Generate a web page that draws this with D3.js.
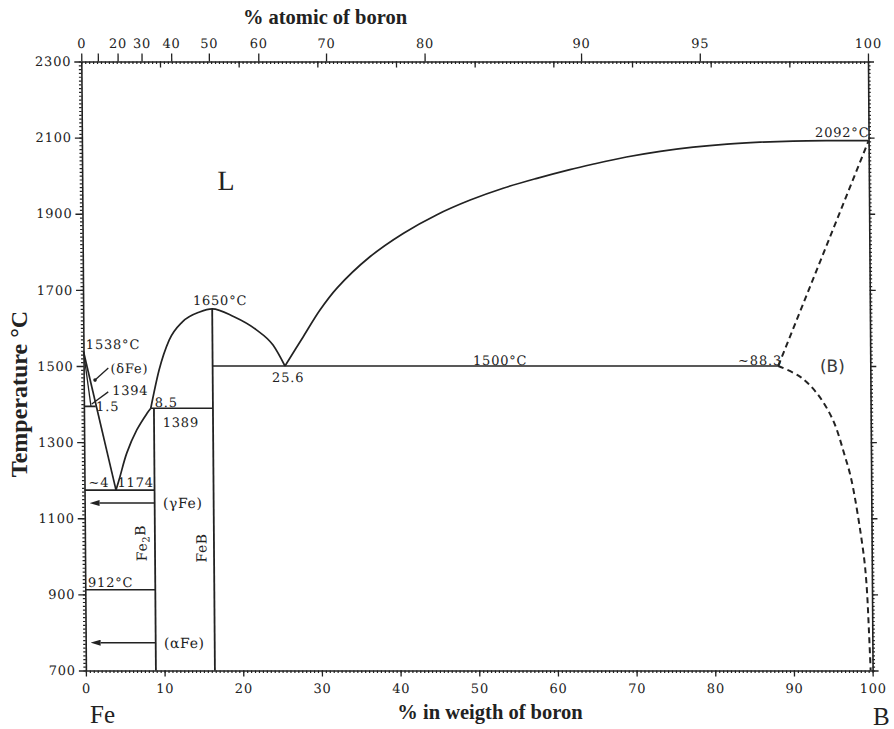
<!DOCTYPE html>
<html><head><meta charset="utf-8">
<script src="https://cdn.jsdelivr.net/npm/d3@7"></script>
<style>
body{margin:0;background:#fff;}
svg{display:block;}
</style></head><body>
<svg id="chart" width="894" height="729"></svg>
<script>
// Fe–B phase diagram: temperature (°C) against boron content (wt %)

// Liquidus branches (wt % B, °C)
const liquidusFeRich = [[0,1538],[4.0,1174]];
const liquidusFe2B = [[4.0,1174],[4.5,1208],[5.4,1271],[6.7,1332],[8.0,1375],[8.5,1389]];
const liquidusFeB = [[8.5,1389],[9.6,1490],[10.9,1568],[12.6,1616],[14.8,1642],[16.4,1650],[19.1,1630],[22.0,1595],[24.1,1555],[25.6,1500]];
const liquidusBoron = [[25.6,1500],[27.95,1577],[30.1,1647],[32.25,1704],[36.5,1787],[40.8,1849],[45.0,1897],[49.3,1936],[53.5,1967],[57.8,1993],[62.0,2016],[64.9,2030],[69.2,2049],[73.5,2064],[77.7,2075],[82.0,2083],[86.2,2088],[90.4,2091],[94.7,2092],[100,2092]];
const deltaSolidus = [[0,1538],[0.9,1394]];

// Dashed boundaries of the (B) field
const boronSolidus = [[88.3,1500],[100,2092]];
const boronSolvus = [[88.3,1500],[91.05,1472],[93.2,1428],[95.2,1358],[96.7,1262],[97.5,1200],[98.9,1017],[99.3,930],[99.58,800],[99.75,700]];

// Invariant horizontals: temperature, composition span
const isothermT    = [1394, 1389, 1174, 912, 1500];
const isothermFrom = [0,    8.5,  0,    0,   16.4];
const isothermTo   = [1.5,  16.4, 8.9,  8.9, 88.3];

// Line compounds
const compoundNames = ["Fe2B", "FeB"];
const compoundWt    = [8.9, 16.4];
const compoundTop   = [1389, 1650];

// Solid-solution arrows toward pure Fe
const arrowLabels = ["(γFe)", "(αFe)"];
const arrowT      = [1140, 773];

// Axis ticks
const tempTicks = [700, 900, 1100, 1300, 1500, 1700, 1900, 2100, 2300];
const wtTicks = [0, 10, 20, 30, 40, 50, 60, 70, 80, 90, 100];
const atTicks = [0, 10, 20, 30, 40, 50, 60, 70, 80, 90, 95, 100];
const atLabelled = [0, 20, 30, 40, 50, 60, 70, 80, 90, 95, 100];

// Atomic masses for the at % → wt % conversion of the top axis
const M_B = 10.81, M_FE = 55.845;
const atToWt = a => a === 100 ? 100 : 100 * a * M_B / (a * M_B + (100 - a) * M_FE);

const svg = d3.select("#chart");
const ink = "#222";
const serif = "'DejaVu Serif', serif";

const x = d3.scaleLinear().domain([0, 100]).range([81.3, 868]);
const y = d3.scaleLinear().domain([700, 2300]).range([670.5, 61.5]);
const topY = y(2300);

// Plot body is slightly sheared, like the printed original
const shear = Math.atan(4.6 / 609) * 180 / Math.PI;
const plot = svg.append("g")
  .attr("transform", `translate(0,${topY}) skewX(${shear}) translate(0,${-topY})`);

function styleAxis(g, size) {
  g.select(".domain").attr("stroke", ink).attr("stroke-width", 1.6);
  g.selectAll(".tick line").attr("stroke", ink).attr("stroke-width", 1.3);
  g.selectAll(".tick text").attr("fill", ink).attr("font-family", serif)
    .attr("font-size", size || 13).attr("letter-spacing", "0.8px");
}
const minorStyle = g => { g.select(".domain").remove(); g.selectAll("line").attr("stroke", ink).attr("stroke-width", 1.2); };

// Minor ticks
const minorT = d3.range(700, 2301, 10);
const minorW = d3.range(0, 100.01, 0.5);
plot.append("g").attr("transform", `translate(${x(0)},0)`)
  .call(d3.axisLeft(y).tickValues(minorT).tickSize(2.5).tickFormat("")).call(minorStyle);
plot.append("g").attr("transform", `translate(${x(100)},0)`)
  .call(d3.axisRight(y).tickValues(minorT).tickSize(2.5).tickFormat("")).call(minorStyle);
plot.append("g").attr("transform", `translate(0,${y(700)})`)
  .call(d3.axisBottom(x).tickValues(minorW).tickSize(2.5).tickFormat("")).call(minorStyle);
plot.append("g").attr("transform", `translate(0,${topY})`)
  .call(d3.axisBottom(x).tickValues(minorW).tickSize(2.5).tickFormat("")).call(minorStyle);

// Major axes
plot.append("g").attr("transform", `translate(${x(0)},0)`)
  .call(d3.axisLeft(y).tickValues(tempTicks).tickSize(7).tickPadding(3).tickSizeOuter(0).tickFormat(d3.format("d")))
  .call(g => styleAxis(g));
plot.append("g").attr("transform", `translate(${x(100)},0)`)
  .call(d3.axisRight(y).tickValues(tempTicks).tickSize(6).tickFormat("").tickSizeOuter(0))
  .call(g => styleAxis(g));
plot.append("g").attr("transform", `translate(0,${y(700)})`)
  .call(d3.axisBottom(x).tickValues(wtTicks).tickSize(6).tickPadding(7).tickSizeOuter(0).tickFormat(d3.format("d")))
  .call(g => styleAxis(g));
// top: weight-% ticks pointing in, atomic-% ticks pointing out with labels
plot.append("g").attr("transform", `translate(0,${topY})`)
  .call(d3.axisBottom(x).tickValues(wtTicks.slice(1, -1)).tickSize(6).tickFormat(""))
  .call(g => { g.select(".domain").remove(); g.selectAll("line").attr("stroke", ink).attr("stroke-width", 1.3); });
plot.append("g").attr("transform", `translate(0,${topY})`)
  .call(d3.axisTop(x).tickValues(atTicks.map(atToWt)).tickSize(8).tickPadding(5.5).tickSizeOuter(0)
    .tickFormat((d, i) => atLabelled.includes(atTicks[i]) ? atTicks[i] : ""))
  .call(g => styleAxis(g));

// Phase boundaries
const line = d3.line().x(d => x(d[0])).y(d => y(d[1]));
const smooth = d3.line().x(d => x(d[0])).y(d => y(d[1])).curve(d3.curveMonotoneX);
const round = d3.line().x(d => x(d[0])).y(d => y(d[1])).curve(d3.curveCatmullRom.alpha(0.5));
const solid = sel => sel.attr("fill", "none").attr("stroke", ink).attr("stroke-width", 1.7);

plot.append("path").datum(liquidusFeRich).attr("d", line).call(solid);
plot.append("path").datum(deltaSolidus).attr("d", line).call(solid).attr("stroke-width", 1.3);
plot.append("path").datum(liquidusFe2B).attr("d", round).call(solid);
plot.append("path").datum(liquidusFeB).attr("d", smooth).call(solid);
plot.append("path").datum(liquidusBoron).attr("d", round).call(solid);

plot.selectAll("line.iso").data(isothermT).join("line").attr("class", "iso")
  .attr("x1", (d, i) => x(isothermFrom[i])).attr("x2", (d, i) => x(isothermTo[i]))
  .attr("y1", d => y(d)).attr("y2", d => y(d))
  .attr("stroke", ink).attr("stroke-width", 1.6);

plot.selectAll("line.cmp").data(compoundWt).join("line").attr("class", "cmp")
  .attr("x1", d => x(d)).attr("x2", d => x(d))
  .attr("y1", y(700)).attr("y2", (d, i) => y(compoundTop[i]))
  .attr("stroke", ink).attr("stroke-width", 1.8);

const dashed = sel => sel.attr("fill", "none").attr("stroke", ink).attr("stroke-width", 2).attr("stroke-dasharray", "6,4");
plot.append("path").datum(boronSolidus).attr("d", line).call(dashed);
plot.append("path").datum(boronSolvus).attr("d", round).call(dashed);

// Arrows toward the Fe axis
svg.append("defs").append("marker").attr("id", "head")
  .attr("viewBox", "0 0 10 6").attr("refX", 0).attr("refY", 3)
  .attr("markerWidth", 10).attr("markerHeight", 6).attr("markerUnits", "userSpaceOnUse")
  .attr("orient", "auto")
  .append("path").attr("d", "M0,0 L10,3 L0,6 Z").attr("fill", ink);
plot.selectAll("line.arr").data(arrowT).join("line").attr("class", "arr")
  .attr("x1", x(compoundWt[0])).attr("x2", x(1.9))
  .attr("y1", d => y(d)).attr("y2", d => y(d))
  .attr("stroke", ink).attr("stroke-width", 1.5).attr("marker-end", "url(#head)");
plot.selectAll("text.arr").data(arrowT).join("text").attr("class", "arr")
  .attr("x", x(9.95)).attr("y", d => y(d)).attr("dy", "0.36em")
  .attr("font-family", serif).attr("font-size", 14).attr("letter-spacing", "0.6px").attr("fill", ink)
  .text((d, i) => arrowLabels[i]);

// Leader lines for the δ-iron corner
const leaders = [[[3.14, 1495], [1.44, 1463]], [[3.11, 1432], [1.0, 1400]]];
plot.selectAll("line.lead").data(leaders).join("line").attr("class", "lead")
  .attr("x1", d => x(d[0][0])).attr("y1", d => y(d[0][1]))
  .attr("x2", d => x(d[1][0])).attr("y2", d => y(d[1][1]))
  .attr("stroke", ink).attr("stroke-width", 1.3);
plot.append("circle").attr("cx", x(1.44)).attr("cy", y(1463)).attr("r", 1.8).attr("fill", ink);

// Point labels (anchor: wt %, °C)
const notes = [
  ["1538°C", 0.3, 1545], ["(δFe)", 3.4, 1482], ["1394", 3.6, 1424], ["1.5", 1.55, 1382],
  ["8.5", 9.0, 1392], ["1389", 10.0, 1340], ["~4", 0.5, 1182], ["1174", 4.2, 1182],
  ["912°C", 0.35, 919], ["1650°C", 13.95, 1660], ["25.6", 23.95, 1458],
  ["1500°C", 49.5, 1503], ["~88.3", 83.2, 1503], ["2092°C", 93.2, 2102]
];
plot.selectAll("text.note").data(notes).join("text").attr("class", "note")
  .attr("x", d => x(d[1])).attr("y", d => y(d[2]))
  .attr("font-family", serif).attr("font-size", 13).attr("letter-spacing", "0.8px").attr("fill", ink)
  .text(d => d[0]);

// Compound names, written upward along their lines
const cmpLabelWt = [7.2, 14.8];
const cmpLabelT = [1035, 1022];
const cl = plot.selectAll("text.cmpname").data(compoundNames).join("text").attr("class", "cmpname")
  .attr("transform", (d, i) => `translate(${x(cmpLabelWt[i])},${y(cmpLabelT[i])}) rotate(-90)`)
  .attr("text-anchor", "middle").attr("dy", "0.36em")
  .attr("font-family", serif).attr("font-size", 14).attr("letter-spacing", "0.6px").attr("fill", ink);
cl.each(function(d) {
  const t = d3.select(this);
  if (d === "Fe2B") {
    t.append("tspan").text("Fe");
    t.append("tspan").attr("font-size", 10).attr("dy", "0.3em").text("2");
    t.append("tspan").attr("dy", "-0.3em").text("B");
  } else t.text(d);
});

// Phase field names
plot.append("text").attr("x", x(17.2)).attr("y", y(1962))
  .attr("font-family", "'Liberation Serif', serif").attr("font-size", 28).attr("fill", ink).text("L");
plot.append("text").attr("x", x(93.6)).attr("y", y(1485))
  .attr("font-family", "'DejaVu Sans', sans-serif").attr("font-size", 17).attr("fill", "#3a3a3a").text("(B)");

// Axis titles and element names
const bold = "'Liberation Serif', serif";
svg.append("text").attr("x", 325).attr("y", 24).attr("text-anchor", "middle")
  .attr("font-family", bold).attr("font-weight", "bold").attr("font-size", 20.5).attr("fill", ink)
  .text("% atomic of boron");
svg.append("text").attr("x", 490).attr("y", 719).attr("text-anchor", "middle")
  .attr("font-family", bold).attr("font-weight", "bold").attr("font-size", 20.5).attr("fill", ink)
  .text("% in weigth of boron");
svg.append("text").attr("transform", "translate(27,394) rotate(-90)").attr("text-anchor", "middle")
  .attr("font-family", bold).attr("font-weight", "bold").attr("font-size", 24).attr("fill", ink)
  .text("Temperature °C");
svg.append("text").attr("x", 90).attr("y", 723)
  .attr("font-family", bold).attr("font-size", 25).attr("fill", ink).text("Fe");
svg.append("text").attr("x", 873).attr("y", 725)
  .attr("font-family", bold).attr("font-size", 25).attr("fill", ink).text("B");
</script>
</body></html>
